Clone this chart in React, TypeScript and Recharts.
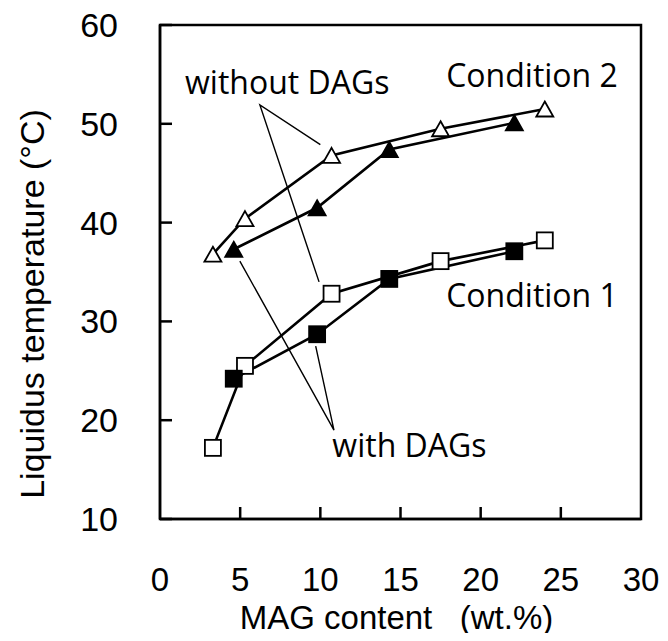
import React from "react";
import {
  ScatterChart,
  Scatter,
  XAxis,
  YAxis,
  ReferenceArea,
  ReferenceDot,
  Label,
} from "recharts";

// MAG content (wt.%) and liquidus temperature (°C)
const mag1Without = [3.3, 5.3, 10.7, 17.5, 24.0];
const temp1Without = [17.2, 25.5, 32.8, 36.1, 38.2];
const mag1With = [4.6, 9.8, 14.3, 22.1];
const temp1With = [24.2, 28.7, 34.3, 37.1];

const mag2Without = [3.3, 5.3, 10.7, 17.5, 24.0];
const temp2Without = [36.8, 40.4, 46.8, 49.5, 51.5];
const mag2With = [4.6, 9.8, 14.3, 22.1];
const temp2With = [37.3, 41.5, 47.4, 50.1];

const xTicks = [0, 5, 10, 15, 20, 25, 30];
const yTicks = [10, 20, 30, 40, 50, 60];

// leader lines of the callouts: end, apex, end
const leaderWithout = [
  { x: 10.0, y: 47.9 },
  { x: 6.23, y: 51.9 },
  { x: 9.92, y: 34.0 },
];
const leaderWith = [
  { x: 4.98, y: 36.1 },
  { x: 10.85, y: 19.0 },
  { x: 9.71, y: 27.5 },
];

const notes = [
  { text: "without DAGs", x: 1.56, y: 53.0 },
  { text: "Condition 2", x: 17.85, y: 53.75 },
  { text: "Condition 1", x: 17.85, y: 31.5 },
  { text: "with DAGs", x: 10.75, y: 16.3 },
];

const pts = (xs: number[], ys: number[]) => xs.map((x, i) => ({ x, y: ys[i] }));

const ARIAL = "'Liberation Sans', Arial, sans-serif";
const NOTE_FONT = "'Open Sans', 'Noto Sans', sans-serif";
const TICK_LEN = 12;
const Y_GAP = 42;
const X_GAP = 49;

const Triangle = ({ cx, cy, filled }: any) => (
  <polygon
    points={`${cx},${cy - 7.5} ${cx + 8.5},${cy + 7.5} ${cx - 8.5},${cy + 7.5}`}
    fill={filled ? "#000" : "#fff"}
    stroke="#000"
    strokeWidth={1.8}
  />
);

const Square = ({ cx, cy, filled }: any) => (
  <rect
    x={cx - 8}
    y={cy - 8}
    width={16}
    height={16}
    fill={filled ? "#000" : "#fff"}
    stroke="#000"
    strokeWidth={1.8}
  />
);

const Empty = () => <g />;

const XTick = (props: any) => {
  const { x, y, payload } = props;
  const axisY = y - X_GAP;
  const v = payload.value;
  return (
    <g>
      {v > 0 && v < 30 && (
        <line x1={x} x2={x} y1={axisY} y2={axisY - TICK_LEN} stroke="#000" strokeWidth={2.5} />
      )}
      <text x={x} y={y} dy="0.71em" textAnchor="middle" fontFamily={ARIAL} fontSize={33} fill="#000">
        {v}
      </text>
    </g>
  );
};

const YTick = (props: any) => {
  const { x, y, payload } = props;
  const axisX = x + Y_GAP;
  return (
    <g>
      <line x1={axisX} x2={axisX + TICK_LEN} y1={y} y2={y} stroke="#000" strokeWidth={2.5} />
      <text x={x} y={y} dy="0.355em" textAnchor="end" fontFamily={ARIAL} fontSize={34} fill="#000">
        {payload.value}
      </text>
    </g>
  );
};

export default function App() {
  return (
    <div style={{ margin: -8 }}>
      <ScatterChart width={668} height={641} margin={{ top: 25, right: 27, bottom: 0, left: 8 }}>
        <XAxis
          type="number"
          dataKey="x"
          domain={[0, 30]}
          ticks={xTicks}
          interval={0}
          height={122}
          tickSize={0}
          tickMargin={X_GAP}
          tickLine={false}
          axisLine={{ stroke: "#000", strokeWidth: 2.5 }}
          tick={XTick}
        >
          <Label
            content={({ viewBox }: any) => (
              <text
                x={viewBox.x + viewBox.width / 2 - 4}
                y={viewBox.y + 110}
                textAnchor="middle"
                fontFamily={ARIAL}
                fontSize={33}
                fill="#000"
                style={{ whiteSpace: "pre" }}
              >
                {"MAG content   (wt.%)"}
              </text>
            )}
          />
        </XAxis>
        <YAxis
          type="number"
          dataKey="y"
          domain={[10, 60]}
          ticks={yTicks}
          interval={0}
          width={152}
          tickSize={0}
          tickMargin={Y_GAP}
          tickLine={false}
          axisLine={{ stroke: "#000", strokeWidth: 2.5 }}
          tick={YTick}
        >
          <Label
            content={({ viewBox }: any) => {
              const cx = 44;
              const cy = viewBox.y + viewBox.height / 2 + 32;
              return (
                <text
                  x={cx}
                  y={cy}
                  transform={`rotate(-90 ${cx} ${cy})`}
                  textAnchor="middle"
                  fontFamily={ARIAL}
                  fontSize={34}
                  fill="#000"
                >
                  Liquidus temperature (°C)
                </text>
              );
            }}
          />
        </YAxis>
        <ReferenceArea x1={0} x2={30} y1={10} y2={60} fill="none" stroke="#000" strokeWidth={2.5} />

        <Scatter data={leaderWithout} line={{ stroke: "#000", strokeWidth: 1.4 }} shape={Empty} isAnimationActive={false} />
        <Scatter data={leaderWith} line={{ stroke: "#000", strokeWidth: 1.4 }} shape={Empty} isAnimationActive={false} />

        <Scatter data={pts(mag2Without, temp2Without)} line={{ stroke: "#000", strokeWidth: 2.6 }} shape={Empty} isAnimationActive={false} />
        <Scatter data={pts(mag2With, temp2With)} line={{ stroke: "#000", strokeWidth: 2.6 }} shape={Empty} isAnimationActive={false} />
        <Scatter data={pts(mag1Without, temp1Without)} line={{ stroke: "#000", strokeWidth: 2.6 }} shape={Empty} isAnimationActive={false} />
        <Scatter data={pts(mag1With, temp1With)} line={{ stroke: "#000", strokeWidth: 2.6 }} shape={Empty} isAnimationActive={false} />

        <Scatter data={pts(mag2Without, temp2Without)} shape={(p: any) => <Triangle {...p} />} isAnimationActive={false} />
        <Scatter data={pts(mag2With, temp2With)} shape={(p: any) => <Triangle {...p} filled />} isAnimationActive={false} />
        <Scatter data={pts(mag1Without, temp1Without)} shape={(p: any) => <Square {...p} />} isAnimationActive={false} />
        <Scatter data={pts(mag1With, temp1With)} shape={(p: any) => <Square {...p} filled />} isAnimationActive={false} />

        {notes.map((n) => (
          <ReferenceDot
            key={n.text}
            x={n.x}
            y={n.y}
            r={0}
            shape={(p: any) => (
              <text x={p.cx} y={p.cy} fontFamily={NOTE_FONT} fontSize={32} fill="#000">
                {n.text}
              </text>
            )}
          />
        ))}
      </ScatterChart>
    </div>
  );
}
